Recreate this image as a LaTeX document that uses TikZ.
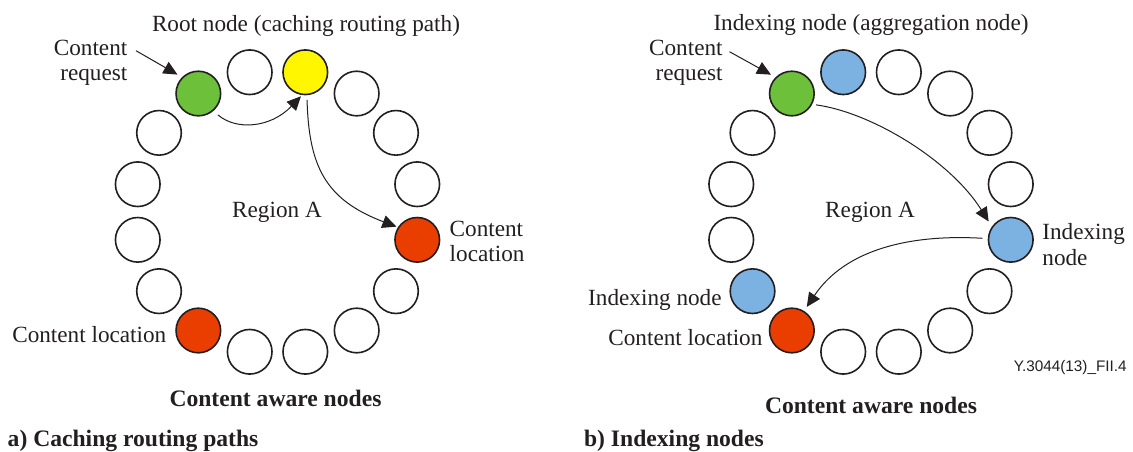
\documentclass[tikz,border=0pt]{standalone}
\usepackage{fontspec}
\setmainfont{Liberation Serif}
\newfontfamily\labelsans{Liberation Sans}
\usetikzlibrary{arrows.meta}

\definecolor{ink}{RGB}{35,31,32}
\definecolor{reqgreen}{RGB}{108,192,58}
\definecolor{rootyellow}{RGB}{255,246,0}
\definecolor{locred}{RGB}{234,62,0}
\definecolor{idxblue}{RGB}{124,178,226}

\begin{document}
\begin{tikzpicture}[x=0.5pt,y=-0.5pt,
  peer/.style={circle,draw=ink,line width=0.8pt,minimum size=22.3pt,inner sep=0pt},
  txt/.style={inner sep=0pt,text=ink,font=\fontsize{11.6pt}{12.75pt}\selectfont},
  ttl/.style={inner sep=0pt,text=ink,font=\fontsize{11.8pt}{14pt}\selectfont\bfseries},
  link/.style={draw=ink,line width=0.5pt,-{Triangle[length=7pt,width=6.5pt]}},
]
\useasboundingbox (0,0) rectangle (1133,451);

% two rings of sixteen content aware nodes
\foreach \k/\lf/\rf in {0/white/white,1/white/white,2/white/white,3/rootyellow/white,
  4/white/idxblue,5/reqgreen/reqgreen,6/white/white,7/white/white,8/white/white,
  9/white/idxblue,10/locred/locred,11/white/white,12/white/white,13/white/white,
  14/white/white,15/locred/idxblue}{
  \pgfmathsetmacro\a{11.25+22.5*\k}
  \node[peer,fill=\lf] (L\k) at ({277.5+142.5*cos(\a)},{212-142.5*sin(\a)}) {};
  \node[peer,fill=\rf] (R\k) at ({871+142.5*cos(\a)},{212-142.5*sin(\a)}) {};
}

% a) caching routing paths (two-line labels are placed by their last baseline)
\node[txt,anchor=base] (rootL) at (306,31) {Root node (caching routing path)};
\node[txt,anchor=base east,align=right] (reqL) at (127.7,80.7) {Content\\request};
\node[txt,anchor=base] (regL) at (277,217) {Region A};
\node[txt,anchor=base west,align=left] (locL1) at (449.3,261.7) {Content\\location};
\node[txt,anchor=base east] (locL2) at (166.7,342) {Content location};
\node[ttl,anchor=base] (awareL) at (275.5,406.7) {Content aware nodes};
\node[ttl,anchor=base west] (capA) at (7.3,446) {a) Caching routing paths};

\coordinate (reqLtail) at (136,50.7);
\draw[link,shorten >=2.6pt] (reqLtail) -- (L5.135);
\draw[link,shorten <=3pt,shorten >=0.8pt] (L5.-49) .. controls +(22,19.3) and +(-32,33.4) .. (L3.-98);
\draw[link,shorten <=2.3pt,shorten >=0.8pt] (L3.-86) .. controls +(2,70.3) and +(-73.2,-27.7) .. (L15.147.5);

% b) indexing nodes
\node[txt,anchor=base] (rootR) at (871,30) {Indexing node (aggregation node)};
\node[txt,anchor=base east,align=right] (reqR) at (723,80.7) {Content\\request};
\node[txt,anchor=base] (regR) at (870,217.3) {Region A};
\node[txt,anchor=base west,align=left] (idxR1) at (1042,265) {Indexing\\node};
\node[txt,anchor=base east] (idxR2) at (722,305) {Indexing node};
\node[txt,anchor=base east] (locR) at (762.8,345.7) {Content location};
\node[txt,anchor=base east,font=\labelsans\fontsize{7.65pt}{9pt}\selectfont] (figid) at (1127,371) {Y.3044(13)\_FII.4};
\node[ttl,anchor=base] (awareR) at (871,413) {Content aware nodes};
\node[ttl,anchor=base west] (capB) at (583.7,446.7) {b) Indexing nodes};

\coordinate (reqRtail) at (729.5,51.7);
\draw[link,shorten >=2.6pt] (reqRtail) -- (R5.135);
\draw[link,shorten <=1.9pt,shorten >=3pt] (R5.-28) .. controls +(58.3,7.8) and +(-42.15,-67) .. (R15.145.6);
\draw[link,shorten <=2.7pt,shorten >=2.4pt] (R15.177) .. controls +(-78.2,-4.6) and +(41.2,-61.3) .. (R10.58);
\end{tikzpicture}
\end{document}
